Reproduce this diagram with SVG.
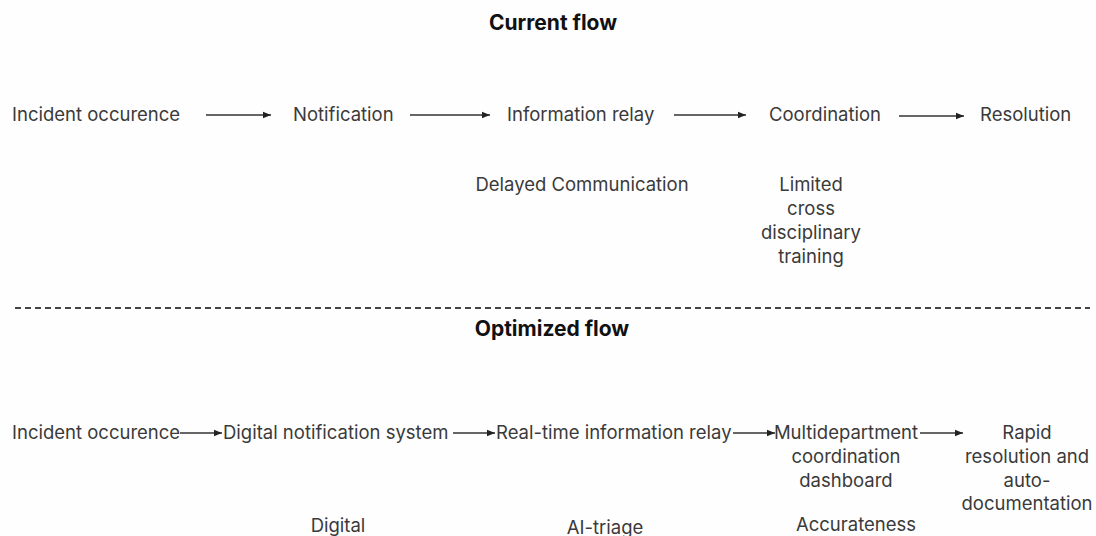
<svg xmlns="http://www.w3.org/2000/svg" width="1096" height="536" viewBox="0 0 1096 536">
<defs>
<marker id="ah" viewBox="0 0 8 8" refX="8" refY="4" markerWidth="8" markerHeight="8" markerUnits="userSpaceOnUse" orient="auto">
<path d="M0,0.8 L8,4 L0,7.2 Z" fill="#222"/>
</marker>
<style>
text{font-family:Inter,Roboto,"Liberation Sans",sans-serif;font-size:18.5px;fill:#3a3a3a}
.t{font-weight:bold;font-size:21px;fill:#111}
.c{text-anchor:middle}
.e{stroke:#333;stroke-width:1.3;fill:none}
</style>
</defs>
<rect width="1096" height="536" fill="#fefefe"/>
<text id="title1" class="t c" x="553" y="30">Current flow</text>
<g id="n1"><text x="12" y="121">Incident occurence</text></g>
<g id="n2"><text x="293" y="121">Notification</text></g>
<g id="n3"><text x="507" y="121">Information relay</text></g>
<g id="n4"><text x="769" y="121">Coordination</text></g>
<g id="n5"><text x="980" y="121">Resolution</text></g>
<g id="l1"><text class="c" x="582" y="191">Delayed Communication</text></g>
<g id="l2"><text class="c" x="811" y="191">Limited</text><text class="c" x="811" y="215">cross</text><text class="c" x="811" y="239">disciplinary</text><text class="c" x="811" y="263">training</text></g>
<line x1="15" y1="308" x2="1090" y2="308" stroke="#444" stroke-width="2" stroke-dasharray="6 4"/>
<text id="title2" class="t c" x="552" y="336">Optimized flow</text>
<g id="m1"><text x="12" y="439">Incident occurence</text></g>
<g id="m2"><text x="223" y="439">Digital notification system</text></g>
<g id="m3"><text x="496" y="439">Real-time information relay</text></g>
<g id="m4"><text class="c" x="846" y="439">Multidepartment</text><text class="c" x="846" y="463">coordination</text><text class="c" x="846" y="487">dashboard</text></g>
<g id="m5"><text class="c" x="1027" y="439">Rapid</text><text class="c" x="1027" y="463">resolution and</text><text class="c" x="1027" y="487">auto-</text><text class="c" x="1027" y="510">documentation</text></g>
<g id="k1"><text class="c" x="338" y="532">Digital</text></g>
<g id="k2"><text class="c" x="605" y="534">AI-triage</text></g>
<g id="k3"><text class="c" x="856" y="531">Accurateness</text></g>
<g id="connectors">
<line class="e" x1="206" y1="115" x2="271" y2="115" marker-end="url(#ah)"/>
<line class="e" x1="410" y1="115" x2="490" y2="115" marker-end="url(#ah)"/>
<line class="e" x1="674" y1="115" x2="746" y2="115" marker-end="url(#ah)"/>
<line class="e" x1="899" y1="116" x2="964" y2="116" marker-end="url(#ah)"/>
<line class="e" x1="180" y1="433" x2="222" y2="433" marker-end="url(#ah)"/>
<line class="e" x1="453" y1="433" x2="495" y2="433" marker-end="url(#ah)"/>
<line class="e" x1="733" y1="433" x2="775" y2="433" marker-end="url(#ah)"/>
<line class="e" x1="920" y1="433" x2="963" y2="433" marker-end="url(#ah)"/>
</g>
</svg>
